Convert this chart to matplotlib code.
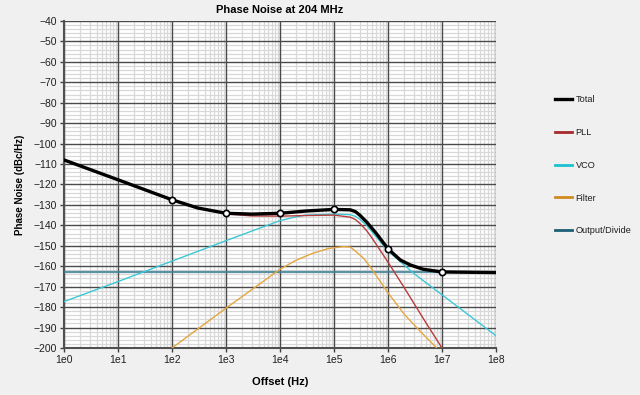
import matplotlib
matplotlib.use("Agg")
import matplotlib.pyplot as plt
from matplotlib.ticker import LogLocator, MultipleLocator, FixedLocator
from matplotlib.lines import Line2D

# offsets (Hz) and noise levels (dBc/Hz)
total_f = [1e0, 1e1, 1e2, 3e2, 1e3, 3e3, 1e4, 3e4, 1e5, 2e5, 2.5e5, 3e5, 4e5, 6e5, 1e6, 1.7e6, 2.6e6, 4.5e6, 1e7, 1e8]
total_v = [-108, -117.7, -127.5, -131.5, -134.1, -134.5, -134.1, -133, -132.2, -132.4, -133.3, -135, -138.3, -143.8, -151.5, -157, -159.4, -161.5, -162.8, -163.1]

pll_f = [1e0, 1e1, 1e2, 3e2, 1e3, 3e3, 1e4, 3e4, 1e5, 2e5, 2.5e5, 3e5, 4e5, 5e5, 1e6, 2e6, 5e6, 1e7]
pll_v = [-108, -117.7, -127.5, -131.7, -134.4, -135.4, -135.5, -135.2, -135, -136, -137.2, -139, -142.5, -146, -158, -170.5, -187.5, -200]

vco_f = [1e0, 1e1, 1e2, 1e3, 3e3, 1e4, 2e4, 3e4, 1e5, 2e5, 2.5e5, 3e5, 4e5, 6e5, 1e6, 3e6, 1e7, 1e8]
vco_v = [-177.3, -167.5, -157.5, -147.5, -142.8, -137.7, -135.8, -135, -134.5, -134.8, -135.6, -137, -140, -145.5, -152.5, -163.5, -174, -194]

filt_f = [1e2, 1e3, 1e4, 2e4, 4e4, 8e4, 1.5e5, 2e5, 2.6e5, 3.5e5, 4.6e5, 1e6, 2e6, 4e6, 8e6]
filt_v = [-200, -180.5, -161.5, -157, -153.7, -151.3, -150.4, -150.6, -153, -156, -160, -173, -183.5, -192, -200]

out_f = [1e0, 1e8]
out_v = [-163, -163]

marker_f = [1e2, 1e3, 1e4, 1e5, 1e6, 1e7]
marker_v = [-127.5, -134.1, -134.1, -132.2, -151.5, -162.8]

xticks = [1e0, 1e1, 1e2, 1e3, 1e4, 1e5, 1e6, 1e7, 1e8]
xlabels = ["1e0", "1e1", "1e2", "1e3", "1e4", "1e5", "1e6", "1e7", "1e8"]
yticks = list(range(-200, -39, 10))

plt.rcParams['font.family'] = ['Liberation Sans', 'DejaVu Sans']

fig = plt.figure(figsize=(6.4, 3.95), dpi=100, facecolor='#f0f0f0')
ax = fig.add_axes([0.1, 0.119, 0.675, 0.828])
ax.set_facecolor('white')

ax.set_xscale('log')
ax.set_xlim(1e0, 1e8)
ax.set_ylim(-200, -40)

ax.xaxis.set_major_locator(FixedLocator(xticks))
ax.set_xticklabels(xlabels)
ax.yaxis.set_major_locator(FixedLocator(yticks))
ax.xaxis.set_minor_locator(LogLocator(base=10, subs=range(2, 10), numticks=100))
ax.yaxis.set_minor_locator(MultipleLocator(2))
ax.tick_params(which='minor', length=0)
ax.tick_params(which='major', length=3, width=1, color='#404040', labelsize=7.5, pad=2, labelcolor='#202020')

# light minor grid, dark major grid drawn on top of it
ax.grid(which='minor', color='#d8d8d8', linewidth=0.9)
ax.grid(which='major', visible=False)
ax.set_axisbelow(True)
for x in xticks:
    ax.axvline(x, color='#4a4a4a', lw=1.0, zorder=1)
for y in yticks:
    ax.axhline(y, color='#4a4a4a', lw=1.0, zorder=1)

for side in ['top', 'right']:
    ax.spines[side].set_visible(False)
for side in ['left', 'bottom']:
    ax.spines[side].set_color('#505050')
    ax.spines[side].set_linewidth(1.5)

ax.plot(out_f, out_v, color='#3f8196', lw=1.6, alpha=0.85, zorder=3)
ax.plot(filt_f, filt_v, color='#e3a640', lw=1.0, zorder=3)
ax.plot(vco_f, vco_v, color='#3cc8d6', lw=1.0, zorder=3)
ax.plot(pll_f, pll_v, color='#b83c3c', lw=1.0, zorder=4)
ax.plot(total_f, total_v, color='black', lw=2.4, zorder=5, solid_joinstyle='round')
ax.plot(marker_f, marker_v, 'o', ms=4.5, mfc='white', mec='black', mew=1.2, zorder=6)

ax.set_title('Phase Noise at 204 MHz', fontsize=8, fontweight='bold', pad=6)
ax.set_xlabel('Offset (Hz)', fontsize=8, fontweight='bold', labelpad=9)
ax.set_ylabel('Phase Noise (dBc/Hz)', fontsize=7, fontweight='bold', labelpad=6)

# legend on the right, outside the plot
names = ['Total', 'PLL', 'VCO', 'Filter', 'Output/Divide']
legend_colors = ['black', '#a52a2a', '#1ec0d0', '#d08a20', '#1d5f78']
lh = [Line2D([], [], color=c, lw=2.4 if n == 'Total' else 2.0) for n, c in zip(names, legend_colors)]
fig.legend(lh, names, loc='upper left', bbox_to_anchor=(0.855, 0.78), frameon=False,
           fontsize=6.6, handlelength=1.8, handletextpad=0.4, labelspacing=2.6,
           labelcolor='#202020')

fig.savefig('out.png', dpi=100, facecolor=fig.get_facecolor())
